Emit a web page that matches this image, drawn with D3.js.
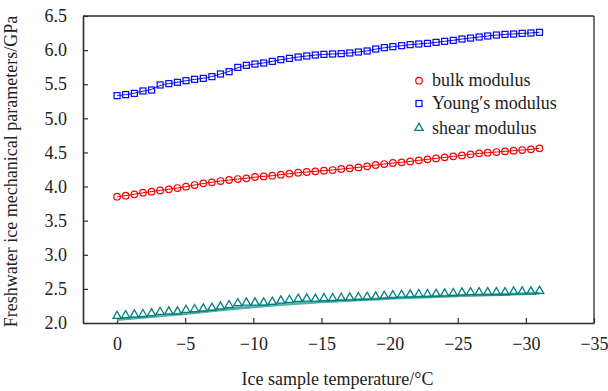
<!DOCTYPE html>
<html>
<head>
<meta charset="utf-8">
<script src="https://cdn.jsdelivr.net/npm/d3@7"></script>
<style>
  html, body { margin: 0; padding: 0; background: #fff; }
  svg { display: block; font-family: "Liberation Serif", "Times New Roman", serif; }
</style>
</head>
<body>
<svg id="chart" width="608" height="391"></svg>
<script>
const temps = [0, -0.63, -1.27, -1.90, -2.53, -3.16, -3.80, -4.43, -5.06, -5.69,
  -6.33, -6.96, -7.59, -8.22, -8.86, -9.49, -10.12, -10.76, -11.39, -12.02,
  -12.65, -13.29, -13.92, -14.55, -15.18, -15.82, -16.45, -17.08, -17.71, -18.35,
  -18.98, -19.61, -20.24, -20.88, -21.51, -22.14, -22.78, -23.41, -24.04, -24.67,
  -25.31, -25.94, -26.57, -27.20, -27.84, -28.47, -29.10, -29.73, -30.37, -31.00];

const youngs = [5.332, 5.347, 5.366, 5.401, 5.415, 5.489, 5.508, 5.528, 5.552, 5.572,
  5.586, 5.611, 5.650, 5.684, 5.747, 5.777, 5.796, 5.811, 5.835, 5.860,
  5.879, 5.899, 5.914, 5.928, 5.938, 5.943, 5.948, 5.958, 5.972, 5.987,
  6.016, 6.036, 6.050, 6.065, 6.080, 6.090, 6.099, 6.114, 6.129, 6.143,
  6.163, 6.177, 6.192, 6.207, 6.221, 6.231, 6.236, 6.246, 6.251, 6.261];

const bulk = [3.851, 3.866, 3.886, 3.910, 3.925, 3.944, 3.959, 3.978, 3.998, 4.022,
  4.047, 4.062, 4.081, 4.096, 4.110, 4.120, 4.140, 4.149, 4.159, 4.174,
  4.189, 4.203, 4.213, 4.223, 4.233, 4.242, 4.257, 4.267, 4.281, 4.296,
  4.316, 4.330, 4.345, 4.355, 4.369, 4.384, 4.399, 4.413, 4.428, 4.443,
  4.457, 4.472, 4.487, 4.496, 4.506, 4.516, 4.526, 4.535, 4.545, 4.560];

const shear = [2.102, 2.112, 2.122, 2.127, 2.141, 2.161, 2.166, 2.166, 2.190, 2.200,
  2.210, 2.220, 2.239, 2.259, 2.288, 2.298, 2.298, 2.298, 2.308, 2.327,
  2.337, 2.352, 2.356, 2.352, 2.361, 2.361, 2.366, 2.371, 2.376, 2.381,
  2.386, 2.395, 2.405, 2.410, 2.415, 2.420, 2.420, 2.425, 2.430, 2.435,
  2.444, 2.449, 2.449, 2.449, 2.449, 2.449, 2.459, 2.459, 2.459, 2.469];

// fitted trend of the shear modulus (thick line)
const shearFitTemps = [0, -5, -10, -15, -20, -25, -31];
const shearFit = [2.053, 2.141, 2.239, 2.312, 2.361, 2.400, 2.435];

const xTicks = [0, -5, -10, -15, -20, -25, -30, -35];
const yTicks = [2.0, 2.5, 3.0, 3.5, 4.0, 4.5, 5.0, 5.5, 6.0, 6.5];
const legendLabels = ["bulk modulus", "Young\u2032s modulus", "shear modulus"];

const xTitle = "Ice sample temperature/\u00B0C";
const yTitle = "Freshwater ice mechanical parameters/GPa";

const svg = d3.select("#chart");
const L = 83, R = 594, T = 16, B = 323;
const x = d3.scaleLinear().domain([2.5, -35]).range([L, R]);
const y = d3.scaleLinear().domain([2.0, 6.5]).range([B, T]);

const axisColor = "#2b2b2b";
const fontSize = 18;
const serif = "Liberation Serif, Times New Roman, serif";

// frame (top & right)
svg.append("line").attr("x1", L).attr("x2", R).attr("y1", T).attr("y2", T)
  .attr("stroke", axisColor).attr("stroke-width", 1.3);
svg.append("line").attr("x1", R).attr("x2", R).attr("y1", T).attr("y2", B)
  .attr("stroke", axisColor).attr("stroke-width", 1.3);

// x axis
const xAxis = svg.append("g").attr("transform", `translate(0,${B})`)
  .call(d3.axisBottom(x).tickValues(xTicks).tickSizeInner(-5).tickSizeOuter(0)
    .tickPadding(14).tickFormat(d3.format("d")))
  .attr("font-family", serif).attr("font-size", fontSize);
xAxis.select(".domain").attr("stroke", axisColor).attr("stroke-width", 1.6);
xAxis.selectAll(".tick line").attr("stroke", axisColor).attr("stroke-width", 1.2);
xAxis.selectAll(".tick text").attr("fill", "#222");

// y axis
const yAxis = svg.append("g").attr("transform", `translate(${L},0)`)
  .call(d3.axisLeft(y).tickValues(yTicks).tickSizeInner(-5).tickSizeOuter(0)
    .tickPadding(16).tickFormat(d3.format(".1f")))
  .attr("font-family", serif).attr("font-size", fontSize);
yAxis.select(".domain").attr("stroke", axisColor).attr("stroke-width", 1.6);
yAxis.selectAll(".tick line").attr("stroke", axisColor).attr("stroke-width", 1.2);
yAxis.selectAll(".tick text").attr("fill", "#222");

// titles
svg.append("text").attr("x", (L + R) / 2 - 1).attr("y", 385)
  .attr("text-anchor", "middle").attr("font-size", fontSize).attr("fill", "#222")
  .text(xTitle);
svg.append("text").attr("transform", `translate(17,${(T + B) / 2 + 2}) rotate(-90)`)
  .attr("text-anchor", "middle").attr("font-size", fontSize).attr("fill", "#222")
  .text(yTitle);

const pts = arr => arr.map((v, i) => [temps[i], v]);
const line = d3.line().x(d => x(d[0])).y(d => y(d[1])).curve(d3.curveBasis);

// shear fit (thick)
svg.append("path").datum(shearFitTemps.map((t, i) => [t, shearFit[i]]))
  .attr("d", d3.line().x(d => x(d[0])).y(d => y(d[1])).curve(d3.curveMonotoneX))
  .attr("fill", "none").attr("stroke", "#3a9f9a").attr("stroke-width", 3).attr("opacity", 0.85);

// thin lines through data
svg.append("path").datum(pts(youngs)).attr("d", line)
  .attr("fill", "none").attr("stroke", "#1010e0").attr("stroke-width", 1);
svg.append("path").datum(pts(bulk)).attr("d", line)
  .attr("fill", "none").attr("stroke", "#e00000").attr("stroke-width", 1);

// markers
const red = "#ff0000", blue = "#0000ff", teal = "#008080";
svg.append("g").selectAll("circle").data(pts(bulk)).join("circle")
  .attr("cx", d => x(d[0])).attr("cy", d => y(d[1])).attr("r", 3.3)
  .attr("fill", "none").attr("stroke", red).attr("stroke-width", 1.2);

svg.append("g").selectAll("rect").data(pts(youngs)).join("rect")
  .attr("x", d => x(d[0]) - 3).attr("y", d => y(d[1]) - 3)
  .attr("width", 6).attr("height", 6)
  .attr("fill", "none").attr("stroke", blue).attr("stroke-width", 1.2);

const tri = d3.symbol().type(d3.symbolTriangle).size(30);
svg.append("g").selectAll("path").data(pts(shear)).join("path")
  .attr("transform", d => `translate(${x(d[0])},${y(d[1])})`)
  .attr("d", tri)
  .attr("fill", "none").attr("stroke", teal).attr("stroke-width", 1.3);

// legend
const lg = svg.append("g");
const lx = 419, ly = [80.7, 103.5, 128];
lg.append("circle").attr("cx", lx).attr("cy", ly[0]).attr("r", 3.3)
  .attr("fill", "none").attr("stroke", red).attr("stroke-width", 1.2);
lg.append("rect").attr("x", lx - 3).attr("y", ly[1] - 3).attr("width", 6).attr("height", 6)
  .attr("fill", "none").attr("stroke", blue).attr("stroke-width", 1.2);
lg.append("path").attr("transform", `translate(${lx},${ly[2]})`).attr("d", tri)
  .attr("fill", "none").attr("stroke", teal).attr("stroke-width", 1.3);
legendLabels.forEach((t, i) => {
  lg.append("text").attr("x", 432).attr("y", ly[i] + 5.5)
    .attr("font-size", fontSize).attr("fill", "#222").text(t);
});
</script>
</body>
</html>
